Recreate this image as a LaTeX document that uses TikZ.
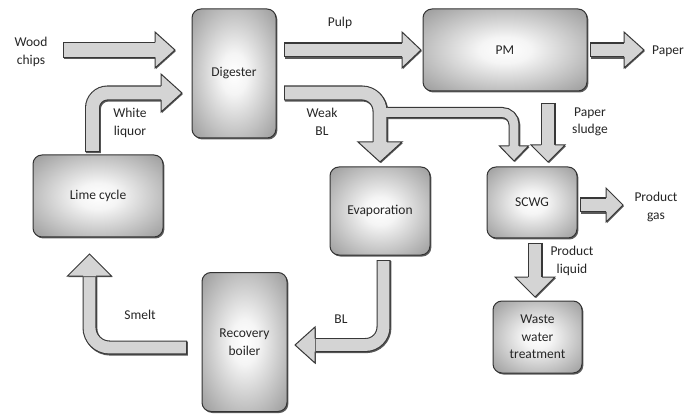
\documentclass[tikz,border=0pt]{standalone}
\usepackage{fontspec}
\setmainfont{Carlito}
\usetikzlibrary{shadows}
\pgfdeclareradialshading{boxshade}{\pgfpoint{0bp}{0bp}}{color(0bp)=(white); color(8bp)=(white!96!black); color(50bp)=(black!58); color(72bp)=(black!72)}
\colorlet{afill}{black!17}
\colorlet{aline}{black!78}
\newcommand\bhead[5]{%
  \begin{scope}[shift={#1}, rotate=#2]
    \fill[black!65, transform canvas={xshift=0.9pt,yshift=-1.1pt}] (0pt,#3) -- (0pt,#4) -- (#5,0pt) -- (0pt,-#4) -- (0pt,-#3) -- cycle;
    \fill[afill] (0pt,#3) -- (0pt,#4) -- (#5,0pt) -- (0pt,-#4) -- (0pt,-#3) -- cycle;
    \draw[aline, line width=1pt, line join=miter] (0pt,#3) -- (0pt,#4) -- (#5,0pt) -- (0pt,-#4) -- (0pt,-#3);
  \end{scope}}
\tikzset{
  sd/.style={draw=aline, line width=#1pt,
    preaction={draw=black!65, line width=#1pt, transform canvas={xshift=0.9pt,yshift=-1.1pt}}},
  sl/.style={draw=afill, line width=#1pt-2.2pt},
  box/.style={draw=black!80, line width=1pt, rounded corners=9pt, shading=boxshade,
    align=center, text=black!85, inner sep=0pt,
    drop shadow={shadow xshift=1.3pt, shadow yshift=-1.5pt, fill=black!70, opacity=0.9}},
  lbl/.style={align=center, text=black!85, inner sep=0pt},
}
\begin{document}
\begin{tikzpicture}[x=1pt, y=-1pt, font=\fontsize{13.5}{17.5}\selectfont]
\fill[white] (0,0) rectangle (688,414);
\useasboundingbox (0,0) rectangle (688,414);

% boxes
\node[box, minimum width=84pt, minimum height=129pt] (dig) at (234,73.5) {Digester};
\node[box, minimum width=164pt, minimum height=82pt] (pm) at (505,50) {PM};
\node[box, minimum width=130pt, minimum height=82pt] (lime) at (98,196) {Lime cycle};
\node[box, minimum width=100pt, minimum height=88pt] (evap) at (380,211) {Evaporation};
\node[box, minimum width=85pt, minimum height=139pt] (rb) at (244.5,342) {Recovery\\boiler};
\node[box, minimum width=90pt, minimum height=71pt] (scwg) at (532,202.5) {SCWG};
\node[box, minimum width=89pt, minimum height=72pt] (wwt) at (537.5,337) {Waste\\water\\treatment};

% Wood chips
\draw[sd=16] (63,50) -- (155,50);
\draw[sl=16, shorten <=1.1pt] (63,50) -- (155,50);
\bhead{(155,50)}{0}{7.5pt}{18pt}{20pt}

% White liquor
\draw[sd=15, rounded corners=15pt] (92.5,152) -- (92.5,93) -- (161,93);
\draw[sl=15, rounded corners=15pt, shorten <=1.1pt] (92.5,152) -- (92.5,93) -- (161,93);
\bhead{(161,93)}{0}{7pt}{19pt}{21pt}

% Pulp
\draw[sd=15] (284,50) -- (402,50);
\draw[sl=15, shorten <=1.1pt] (284,50) -- (402,50);
\bhead{(402,50)}{0}{7pt}{18pt}{19pt}

% Paper
\draw[sd=15] (590,50) -- (624,50);
\draw[sl=15, shorten <=1.1pt] (590,50) -- (624,50);
\bhead{(624,50)}{0}{7pt}{18pt}{20pt}

% Weak BL and branch to SCWG
\draw[sd=11, rounded corners=12pt] (380,112.5) -- (514,112.5) -- (514,146);
\draw[sd=15, rounded corners=18pt] (284,93) -- (380,93) -- (380,142);
\draw[sl=11, rounded corners=12pt] (380,112.5) -- (514,112.5) -- (514,146);
\draw[sl=15, rounded corners=18pt, shorten <=1.1pt] (284,93) -- (380,93) -- (380,142);
\bhead{(380,142)}{-90}{7pt}{22pt}{20pt}
\bhead{(514,146)}{-90}{5pt}{14.5pt}{15pt}

% Paper sludge
\draw[sd=15] (548,103) -- (548,145);
\draw[sl=15, shorten <=1.1pt] (548,103) -- (548,145);
\bhead{(548,145)}{-90}{7pt}{17pt}{17pt}

% Product gas
\draw[sd=15] (580,205) -- (606,205);
\draw[sl=15, shorten <=1.1pt] (580,205) -- (606,205);
\bhead{(606,205)}{0}{7pt}{17pt}{17pt}

% Product liquid
\draw[sd=15] (535,243) -- (535,277);
\draw[sl=15, shorten <=1.1pt] (535,243) -- (535,277);
\bhead{(535,277)}{-90}{7pt}{20pt}{20pt}

% BL
\draw[sd=14, rounded corners=18pt] (383.5,260) -- (383.5,345) -- (315,345);
\draw[sl=14, rounded corners=18pt, shorten <=1.1pt] (383.5,260) -- (383.5,345) -- (315,345);
\bhead{(315,345)}{180}{6.5pt}{18pt}{20pt}

% Smelt
\draw[sd=14, rounded corners=20pt] (187,347.5) -- (89.5,347.5) -- (89.5,276);
\draw[sl=14, rounded corners=20pt, shorten <=1.1pt] (187,347.5) -- (89.5,347.5) -- (89.5,276);
\bhead{(89.5,276)}{90}{6.5pt}{22pt}{22pt}

% labels
\node[lbl] (lwood) at (31,52) {Wood\\chips};
\node[lbl] (lwhite) at (130,123) {White\\liquor};
\node[lbl] (lpulp) at (340,23) {Pulp};
\node[lbl] (lweak) at (322,122) {Weak\\BL};
\node[lbl] (lpaper) at (668,51) {Paper};
\node[lbl] (lsludge) at (590,122) {Paper\\sludge};
\node[lbl] (lgas) at (656,207) {Product\\gas};
\node[lbl] (lliq) at (572,261) {Product\\liquid};
\node[lbl] (lsmelt) at (140,315) {Smelt};
\node[lbl] (lbl) at (341,319) {BL};
\end{tikzpicture}
\end{document}
